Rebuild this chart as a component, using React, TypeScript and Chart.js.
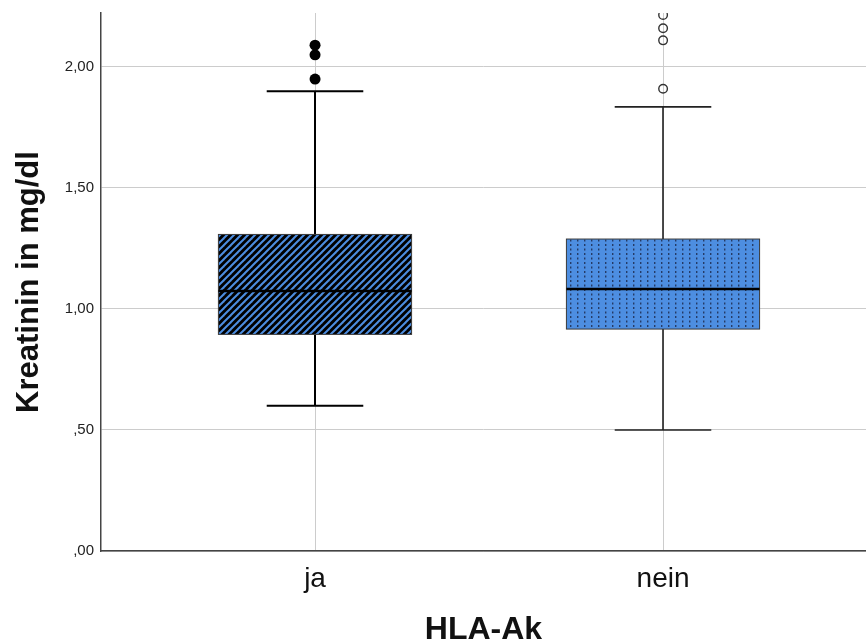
import React, { useEffect, useRef } from 'react';
import { Chart, registerables } from 'chart.js';

Chart.register(...registerables);

const categories = ['ja', 'nein'];
const lowerWhisker = [0.6, 0.5];
const q1 = [0.895, 0.917];
const median = [1.074, 1.083];
const q3 = [1.308, 1.289];
const upperWhisker = [1.9, 1.835];
const outliersJa = [1.95, 2.05, 2.09];
const outliersNein = [1.91, 2.11, 2.16, 2.215];
const yTicks = [0, 0.5, 1, 1.5, 2];

const FONT = "'Liberation Sans', Arial, Helvetica, sans-serif";
const BLUE = 'rgb(77,142,225)';

function stripePattern(ctx: CanvasRenderingContext2D) {
  const c = document.createElement('canvas');
  const s = 7;
  c.width = s;
  c.height = s;
  const g = c.getContext('2d')!;
  g.fillStyle = '#000';
  g.fillRect(0, 0, s, s);
  g.strokeStyle = BLUE;
  g.lineWidth = 2;
  for (const off of [-s, 0, s]) {
    g.beginPath();
    g.moveTo(off - 1, s + 1);
    g.lineTo(off + s + 1, -1);
    g.stroke();
  }
  return ctx.createPattern(c, 'repeat')!;
}

function dotPattern(ctx: CanvasRenderingContext2D) {
  const c = document.createElement('canvas');
  c.width = 7;
  c.height = 9;
  const g = c.getContext('2d')!;
  g.fillStyle = BLUE;
  g.fillRect(0, 0, 7, 9);
  g.fillStyle = 'rgba(30,45,80,0.85)';
  g.fillRect(3, 1, 1.4, 2);
  g.fillRect(3, 5.5, 1.4, 2);
  return ctx.createPattern(c, 'repeat')!;
}

const BOX_WIDTH = 0.555;

const boxPlugin = {
  id: 'boxPlugin',
  beforeDatasetsDraw(chart: any) {
    const { ctx, scales, chartArea } = chart;
    const xs = scales.x;
    const ys = scales.y;
    const fills = [stripePattern(ctx), dotPattern(ctx)];
    ctx.save();
    ctx.beginPath();
    ctx.rect(chartArea.left, chartArea.top, chartArea.right - chartArea.left, chartArea.bottom - chartArea.top);
    ctx.clip();
    categories.forEach((_, i) => {
      const cx = Math.round(xs.getPixelForValue(i + 1));
      const half = xs.getPixelForValue(i + 1 + BOX_WIDTH / 2) - xs.getPixelForValue(i + 1);
      const capHalf = half / 2;
      const yLo = ys.getPixelForValue(lowerWhisker[i]);
      const yQ1 = ys.getPixelForValue(q1[i]);
      const yMed = ys.getPixelForValue(median[i]);
      const yQ3 = ys.getPixelForValue(q3[i]);
      const yHi = ys.getPixelForValue(upperWhisker[i]);
      ctx.strokeStyle = i === 0 ? '#000' : '#222';
      ctx.lineWidth = i === 0 ? 2 : 1.6;
      ctx.beginPath();
      ctx.moveTo(cx, yQ3);
      ctx.lineTo(cx, yHi);
      ctx.moveTo(cx, yQ1);
      ctx.lineTo(cx, yLo);
      ctx.moveTo(cx - capHalf, yHi);
      ctx.lineTo(cx + capHalf, yHi);
      ctx.moveTo(cx - capHalf, yLo);
      ctx.lineTo(cx + capHalf, yLo);
      ctx.stroke();
      ctx.fillStyle = fills[i];
      ctx.fillRect(cx - half, yQ3, half * 2, yQ1 - yQ3);
      ctx.strokeStyle = '#3a3a3a';
      ctx.lineWidth = 1;
      ctx.strokeRect(cx - half, yQ3, half * 2, yQ1 - yQ3);
      ctx.strokeStyle = '#000';
      ctx.lineWidth = 2.5;
      ctx.beginPath();
      ctx.moveTo(cx - half, yMed);
      ctx.lineTo(cx + half, yMed);
      ctx.stroke();
    });
    ctx.restore();
  },
};

function fmt(v: number) {
  const s = v.toFixed(2).replace('.', ',');
  return s.startsWith('0') ? s.slice(1) : s;
}

export default function App() {
  const ref = useRef<HTMLCanvasElement>(null);
  useEffect(() => {
    document.body.style.margin = '0';
    const chart = new Chart(ref.current!, {
      type: 'scatter',
      data: {
        datasets: [
          {
            data: outliersJa.map((v) => ({ x: 1, y: v })),
            pointRadius: 5.5,
            pointBackgroundColor: '#000',
            pointBorderColor: '#000',
            pointBorderWidth: 0,
            clip: 0,
          } as any,
          {
            data: outliersNein.map((v) => ({ x: 2, y: v })),
            pointRadius: 4.3,
            pointBackgroundColor: 'rgba(0,0,0,0)',
            pointBorderColor: '#333',
            pointBorderWidth: 1.4,
            clip: 0,
          } as any,
        ],
      },
      options: {
        responsive: false,
        animation: false,
        layout: { autoPadding: false, padding: { top: 13, right: 0, left: 0, bottom: 0 } },
        plugins: { legend: { display: false }, tooltip: { enabled: false } },
        scales: {
          x: {
            type: 'linear',
            min: 0.385,
            max: 2.583,
            afterBuildTicks: (s: any) => {
              s.ticks = categories.map((_, i) => ({ value: i + 1 }));
            },
            afterFit: (s: any) => {
              s.height = 90;
              s.paddingLeft = 0;
              s.paddingRight = 0;
              s.paddingTop = 0;
              s.paddingBottom = 0;
            },
            grid: { color: '#cccccc', lineWidth: 1, drawTicks: false },
            border: { color: '#444', width: 1.5 },
            ticks: {
              callback: (v: any) => categories[Math.round(v) - 1] ?? '',
              font: { size: 28, family: FONT },
              color: '#111',
              padding: 11,
              maxRotation: 0,
              autoSkip: false,
            },
            title: {
              display: true,
              text: 'HLA-Ak',
              font: { size: 32, weight: 'bold', family: FONT, lineHeight: 0.7 },
              color: '#111',
              padding: { top: 0, bottom: 0 },
            },
          },
          y: {
            min: 0,
            max: 2.223,
            afterBuildTicks: (s: any) => {
              s.ticks = yTicks.map((v) => ({ value: v }));
            },
            afterFit: (s: any) => {
              s.width = 101;
              s.paddingLeft = 0;
              s.paddingRight = 0;
              s.paddingTop = 0;
              s.paddingBottom = 0;
            },
            grid: { color: '#cccccc', lineWidth: 1, drawTicks: false },
            border: { color: '#444', width: 1.5 },
            ticks: {
              callback: (v: any) => fmt(Number(v)),
              font: { size: 15, family: FONT },
              color: '#222',
              padding: 7,
            },
            title: {
              display: true,
              text: 'Kreatinin in mg/dl',
              font: { size: 31, weight: 'bold', family: FONT, lineHeight: 1 },
              color: '#111',
              padding: { top: 14, bottom: 0 },
            },
          },
        },
      },
      plugins: [boxPlugin],
    } as any);
    return () => chart.destroy();
  }, []);
  return <canvas ref={ref} width={866} height={641} style={{ display: 'block', width: 866, height: 641 }} />;
}
